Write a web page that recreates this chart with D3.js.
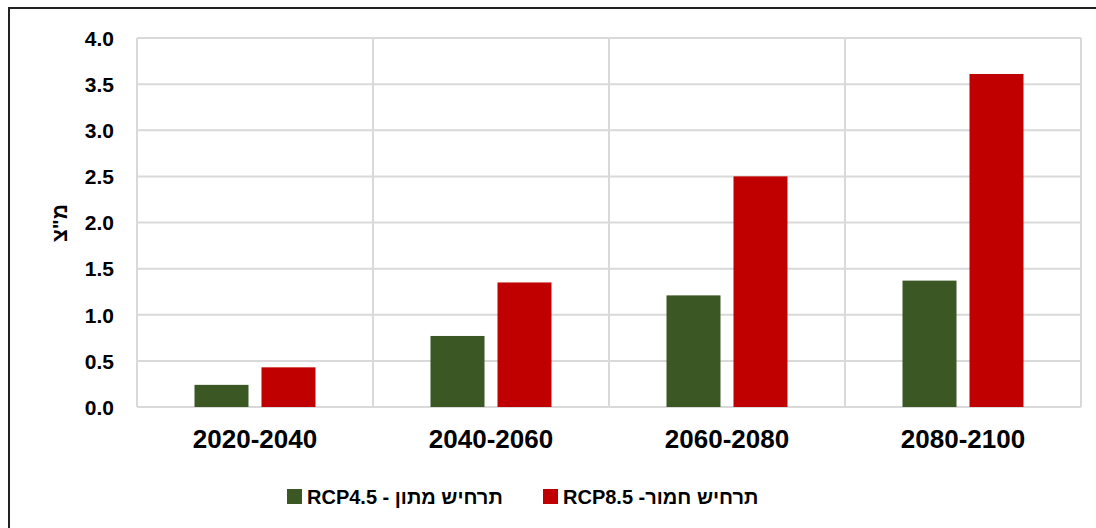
<!DOCTYPE html>
<html lang="he">
<meta charset="utf-8">
<script src="https://d3js.org/d3.v7.min.js"></script>
<style>
  body { margin: 0; background: #fff; }
  text { font-family: "Liberation Sans", Arial, sans-serif; font-weight: bold; fill: #000; }
</style>
<body>
<svg width="1096" height="528"></svg>
<script>
// chart values
var periods = ["2020-2040", "2040-2060", "2060-2080", "2080-2100"];
var seriesNames = ["תרחיש מתון - RCP4.5", "תרחיש חמור- RCP8.5"];
var rcp45 = [0.24, 0.77, 1.21, 1.37];
var rcp85 = [0.43, 1.35, 2.50, 3.61];
var yTicks = [0, 0.5, 1, 1.5, 2, 2.5, 3, 3.5, 4];
var colors = ["#3b5724", "#c00000"];

var svg = d3.select("svg");

// frame around the chart (runs off the right and bottom edges)
svg.append("path")
  .attr("d", "M9,530 L9,8 L1100,8")
  .attr("fill", "none")
  .attr("stroke", "#222")
  .attr("stroke-width", 2);

var plotL = 137, plotR = 1081, plotT = 38, plotB = 407;

var x = d3.scaleBand().domain(periods).range([plotL, plotR]);
var y = d3.scaleLinear().domain([0, 4]).range([plotB, plotT]);

// horizontal gridlines
svg.append("g").selectAll("line")
  .data(yTicks)
  .join("line")
  .attr("x1", plotL).attr("x2", plotR)
  .attr("y1", d => y(d)).attr("y2", d => y(d))
  .attr("stroke", "#d9d9d9").attr("stroke-width", 2);

// vertical gridlines at category boundaries
var bounds = periods.map(p => x(p)).concat([plotR]);
svg.append("g").selectAll("line")
  .data(bounds)
  .join("line")
  .attr("x1", d => d).attr("x2", d => d)
  .attr("y1", plotT).attr("y2", plotB)
  .attr("stroke", "#d9d9d9").attr("stroke-width", 2);

// y axis labels
var yAxis = d3.axisLeft(y).tickValues(yTicks).tickFormat(d3.format(".1f")).tickSize(0).tickPadding(23);
var ya = svg.append("g").attr("transform", "translate(" + plotL + ",0)").call(yAxis);
ya.select(".domain").remove();
ya.selectAll("text").style("font-size", "21px").attr("dy", "0.35em");

// x axis labels
var xAxis = d3.axisBottom(x).tickSize(0).tickPadding(23);
var xa = svg.append("g").attr("transform", "translate(0," + plotB + ")").call(xAxis);
xa.select(".domain").remove();
xa.selectAll("text").style("font-size", "26px");

// bars
var barW = 54, gap = 13;
var series = [rcp45, rcp85];
series.forEach(function(vals, si) {
  svg.append("g").selectAll("rect")
    .data(vals)
    .join("rect")
    .attr("x", (d, i) => x(periods[i]) + x.bandwidth() / 2 + (si === 0 ? -(barW + gap / 2) : gap / 2))
    .attr("width", barW)
    .attr("y", d => y(d))
    .attr("height", d => y(0) - y(d))
    .attr("fill", colors[si]);
});

// y axis title
svg.append("text")
  .attr("transform", "translate(67,223) rotate(-90)")
  .attr("text-anchor", "middle")
  .style("font-size", "21px")
  .style("direction", "rtl")
  .text("מ\"צ");

// legend
var legX = [287, 543];
seriesNames.forEach(function(name, i) {
  var g = svg.append("g").attr("transform", "translate(" + legX[i] + ",489)");
  g.append("rect").attr("width", 15).attr("height", 15).attr("fill", colors[i]);
  g.append("text")
    .attr("x", 20).attr("y", 15)
    .style("font-size", "20px")
    .style("direction", "rtl")
    .attr("text-anchor", "end")
    .text(name);
});
</script>
</body>
</html>
